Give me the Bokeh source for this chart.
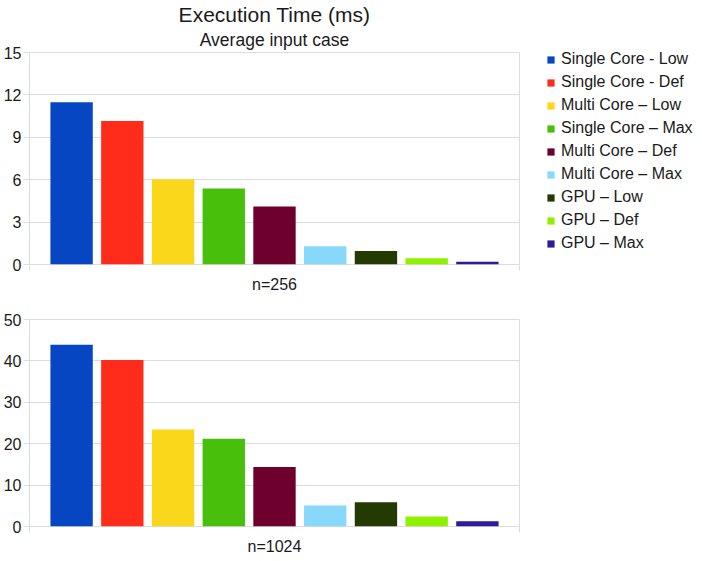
from bokeh.plotting import figure
from bokeh.models import Range1d, FixedTicker, Legend, LegendItem, Title, ColumnDataSource
from bokeh.layouts import column
from bokeh.embed import file_html
from bokeh.resources import INLINE

series = ["Single Core - Low", "Single Core - Def", "Multi Core \u2013 Low", "Single Core \u2013 Max",
          "Multi Core \u2013 Def", "Multi Core \u2013 Max", "GPU \u2013 Low", "GPU \u2013 Def", "GPU \u2013 Max"]
colors = ["#0646c3", "#ff2c1c", "#fad71b", "#47bf0b", "#6d002c", "#87d8fb", "#233a00", "#8ff000", "#2f1a9e"]
values_256 = [11.48, 10.16, 6.03, 5.38, 4.11, 1.29, 0.96, 0.45, 0.19]
values_1024 = [43.9, 40.2, 23.4, 21.2, 14.4, 5.06, 5.84, 2.41, 1.25]
ticks_256 = [0, 3, 6, 9, 12, 15]
ticks_1024 = [0, 10, 20, 30, 40, 50]

FONT = "Liberation Sans"
GRID = "#d9dedf"
TXT = "#1a1a1a"
XMIN, XMAX = -0.83, 8.83
FW = 490
RB = 172


def make_fig(vals, ymax, yticks, xlabel, fh, top):
    p = figure(frame_width=FW, frame_height=fh, output_backend="svg", toolbar_location=None,
               x_range=Range1d(XMIN, XMAX), y_range=Range1d(0, ymax),
               min_border_left=0, min_border_right=RB,
               min_border_top=top, min_border_bottom=0)
    p.outline_line_color = GRID
    p.background_fill_color = "white"
    p.border_fill_color = "white"
    src = ColumnDataSource(dict(x=list(range(len(vals))), top=vals, color=colors, name=series))
    r = p.vbar(x="x", top="top", width=0.835, color="color", source=src, line_color=None)
    p.yaxis.ticker = FixedTicker(ticks=yticks)
    p.yaxis.axis_line_color = GRID
    p.yaxis.major_tick_line_color = GRID
    p.yaxis.major_tick_out = 6
    p.yaxis.major_tick_in = 0
    p.yaxis.minor_tick_line_color = None
    p.yaxis.major_label_standoff = 2
    p.yaxis.major_label_text_font = FONT
    p.yaxis.major_label_text_font_size = "16px"
    p.yaxis.major_label_text_color = TXT
    p.xaxis.ticker = FixedTicker(ticks=[XMIN, XMAX])
    p.xaxis.major_label_overrides = {XMIN: "", XMAX: ""}
    p.xaxis.major_label_text_font_size = "1px"
    p.xaxis.major_label_standoff = 0
    p.xaxis.axis_line_color = None
    p.xaxis.major_tick_line_color = GRID
    p.xaxis.major_tick_out = 6
    p.xaxis.major_tick_in = 0
    p.xaxis.minor_tick_line_color = None
    p.xaxis.axis_label = xlabel
    p.xaxis.axis_label_text_font = FONT
    p.xaxis.axis_label_text_font_size = "16px"
    p.xaxis.axis_label_text_font_style = "normal"
    p.xaxis.axis_label_text_color = TXT
    p.xaxis.axis_label_standoff = 5
    p.xgrid.grid_line_color = None
    p.ygrid.grid_line_color = GRID
    p.ygrid.ticker = FixedTicker(ticks=yticks)
    return p, r


p1, r1 = make_fig(values_256, 15, ticks_256, "n=256", 212, 0)
p1.title.text = "Execution Time (ms)"
p1.title.align = "center"
p1.title.text_font = FONT
p1.title.text_font_size = "21px"
p1.title.text_font_style = "normal"
p1.title.text_color = TXT
p1.title.standoff = 0
p1.add_layout(Title(text="Average input case", align="center", text_font=FONT,
                    text_font_size="17.5px", text_font_style="normal", text_color=TXT,
                    standoff=5), "above")

items = [LegendItem(label=series[i], renderers=[r1], index=i) for i in range(len(series))]
legend = Legend(items=items, location=(27, 11), orientation="vertical",
                label_text_font=FONT, label_text_font_size="16px", label_text_color=TXT,
                glyph_width=9, glyph_height=9, label_height=20, label_standoff=6,
                spacing=3, padding=0, margin=0, border_line_color=None,
                background_fill_color=None)
p1.add_layout(legend, "right")

p2, r2 = make_fig(values_1024, 50, ticks_1024, "n=1024", 207, 24)

layout = column(p1, p2, spacing=0)

open("out.html", "w").write(file_html(layout, INLINE))
